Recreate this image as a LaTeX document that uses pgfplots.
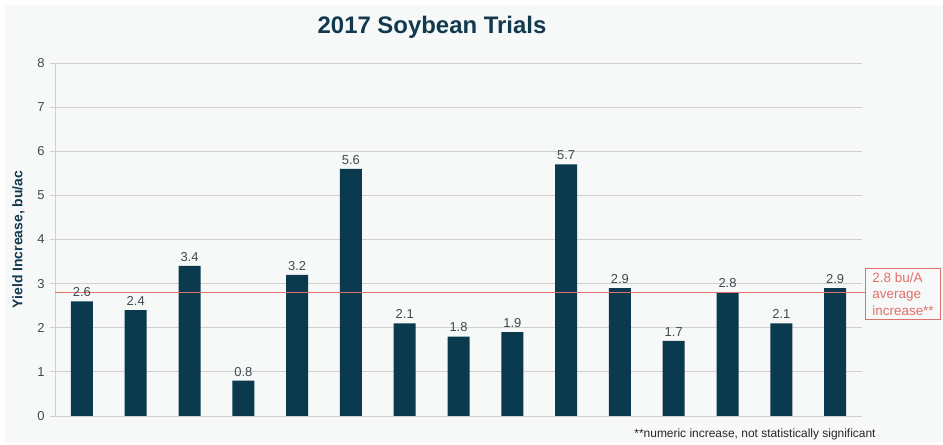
\documentclass[border=0pt]{standalone}
\usepackage{pgfplots}
\pgfplotsset{compat=1.18}
\usepackage{fontspec}
\setmainfont{Liberation Sans}
\definecolor{barblue}{HTML}{0B3A4F}
\definecolor{titleblue}{HTML}{12394D}
\definecolor{avgred}{HTML}{E0706A}
\definecolor{gridgray}{HTML}{CFCFCF}
\definecolor{txtgray}{HTML}{404A50}
\definecolor{bggray}{HTML}{F7F8F8}
\begin{document}
\begin{tikzpicture}[x=1bp,y=1bp]
\fill[white] (0,0) rectangle (943,445);
\fill[bggray] (5,3) rectangle (943,440);
\begin{axis}[
  at={(55bp,29bp)}, anchor=south west,
  scale only axis,
  width=807bp, height=353bp,
  ymin=0, ymax=8,
  xmin=0.5, xmax=15.5,
  ytick={0,1,...,8},
  xtick=\empty,
  ymajorgrids,
  grid style={gridgray, line width=0.9pt},
  axis line style={gridgray, line width=0.9pt},
  axis x line*=bottom,
  axis y line*=left,
  y axis line style={-},
  x axis line style={-},
  ytick style={gridgray, line width=0.9pt},
  major tick length=5bp,
  tick align=outside,
  yticklabel style={font=\fontsize{13}{13}\selectfont, text=txtgray, xshift=-2bp},
  /pgf/number format/assume math mode=true,
  ylabel={\bfseries Yield Increase, bu/ac},
  ylabel style={font=\fontsize{14}{14}\selectfont, text=titleblue, yshift=6bp},
  clip=false,
]
\addplot[ybar, bar width=22bp, fill=barblue, draw=none,
  nodes near coords,
  every node near coord/.append style={font=\fontsize{13}{13}\selectfont, text=txtgray, yshift=1bp},
  /pgf/number format/.cd, fixed, fixed zerofill, precision=1, assume math mode=true]
coordinates {(1,2.6) (2,2.4) (3,3.4) (4,0.8) (5,3.2) (6,5.6) (7,2.1) (8,1.8)
  (9,1.9) (10,5.7) (11,2.9) (12,1.7) (13,2.8) (14,2.1) (15,2.9)};
\addplot[avgred, line width=1.1pt] coordinates {(0.5,2.8) (15.56,2.8)};
\end{axis}
\node[font=\fontsize{24}{24}\selectfont\bfseries, text=titleblue] at (432,418) {2017 Soybean Trials};
\node[draw=avgred, line width=0.8pt, fill=bggray, text=avgred, align=left,
  font=\fontsize{13.5}{16.5}\selectfont, inner xsep=7bp, inner ysep=4bp, anchor=west]
  at (865,151) {2.8 bu/A\\average\\increase**};
\node[font=\fontsize{12}{12}\selectfont, text=black!85] at (755,11) {**numeric increase, not statistically significant};
\end{tikzpicture}
\end{document}
